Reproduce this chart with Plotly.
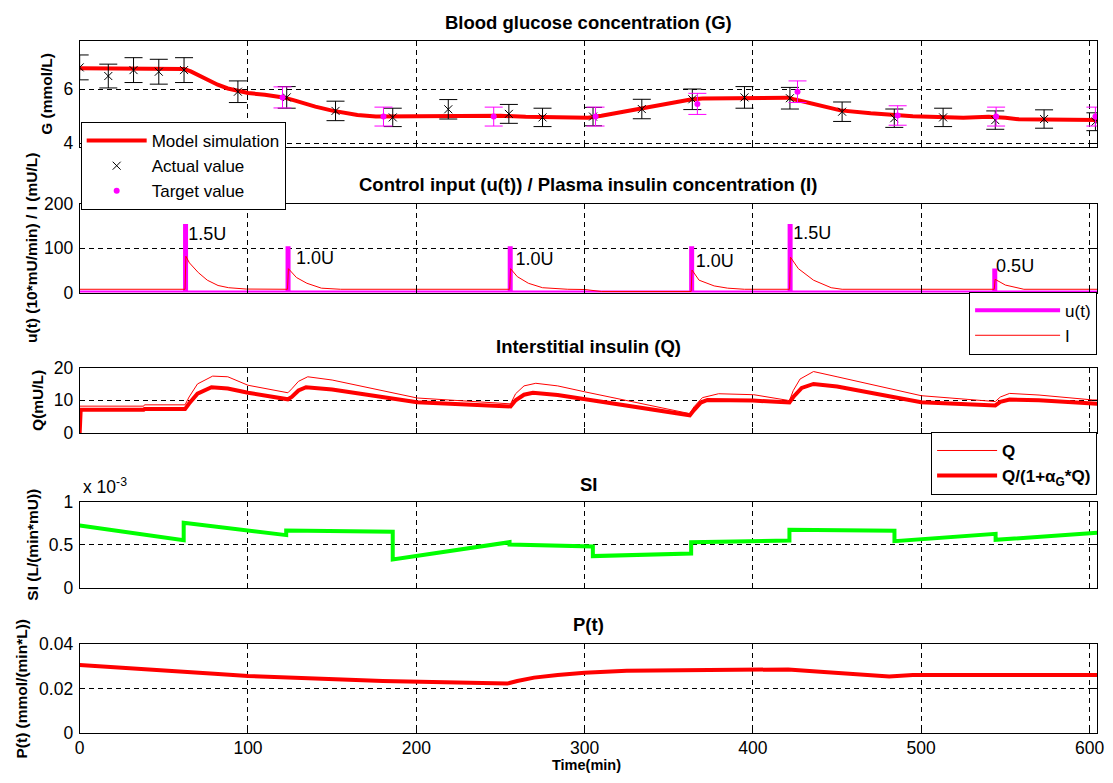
import plotly.graph_objects as go

W, H = 1113, 783

# ---------------- data ----------------
# Panel 1: blood glucose (mmol/L)
g_model_t = [0, 30, 62, 66, 70, 76, 82, 88, 94, 100, 110, 121, 127, 133, 140, 150, 158, 165, 176, 229, 250, 265, 284, 302, 310, 332, 350, 363, 370, 393, 421, 425, 440, 452, 470, 480, 495, 525, 540, 550, 558, 604.5]
g_model_v = [6.78, 6.77, 6.75, 6.66, 6.53, 6.35, 6.17, 6.03, 5.93, 5.86, 5.80, 5.70, 5.60, 5.48, 5.36, 5.21, 5.11, 5.05, 4.99, 4.99, 5.02, 4.98, 4.95, 4.95, 5.02, 5.26, 5.48, 5.62, 5.66, 5.67, 5.69, 5.62, 5.40, 5.22, 5.11, 5.07, 5.00, 4.95, 4.98, 4.95, 4.89, 4.86]

actual_t = [0, 17, 32, 47, 62, 94, 123, 152, 186, 219, 255, 275, 305, 334, 364, 395, 422, 453, 484, 513, 544, 573, 603.5]
actual_v = [6.81, 6.49, 6.71, 6.65, 6.71, 5.91, 5.70, 5.20, 4.96, 5.26, 5.09, 4.96, 4.99, 5.27, 5.63, 5.70, 5.67, 5.17, 4.93, 4.96, 4.86, 4.90, 4.80]
actual_err = [0.46, 0.44, 0.46, 0.46, 0.46, 0.40, 0.40, 0.36, 0.34, 0.36, 0.35, 0.34, 0.34, 0.36, 0.38, 0.40, 0.40, 0.36, 0.34, 0.34, 0.34, 0.34, 0.33]

target_t = [120.5, 180.5, 246, 306.5, 367, 426.5, 486, 544.5, 603.5]
target_v = [5.70, 4.99, 4.99, 4.99, 5.46, 5.91, 5.03, 4.99, 4.99]
target_err = [0.39, 0.35, 0.35, 0.35, 0.39, 0.40, 0.36, 0.35, 0.35]

# Panel 2: insulin boluses (10*mU/min) and plasma insulin (mU/L)
bolus_t = [62.6, 123.5, 255.5, 363.3, 421.8, 543.4]
bolus_u = [150, 100, 100, 100, 150, 50]
bolus_labels = ["1.5U", "1.0U", "1.0U", "1.0U", "1.5U", "0.5U"]
label_x = [64.5, 128.5, 259.0, 366.0, 424.0, 544.5]
label_y = [128, 75, 72, 68, 131, 57]

plasma_t = [0, 62.6, 63.1, 65.2, 70.5, 75.8, 82.2, 88.5, 99, 123.5, 124.0, 128.8, 135, 143.6, 155, 255.5, 256.0, 260, 266.6, 275, 290, 300, 310, 363.3, 363.8, 368, 377, 385, 395, 421.8, 422.3, 427, 436, 446.5, 453, 543.4, 543.9, 550, 561, 604.5]
plasma_v = [7.5, 7.5, 82, 67, 45, 28, 16, 11, 8, 7.5, 54, 34, 21, 10, 7.5, 7.5, 54, 36, 21, 11, 7.5, 7, 2.5, 2.5, 51, 28, 15, 10, 7.5, 7.5, 80, 54, 28, 11, 7.5, 7.5, 30, 17, 7.5, 7.5]

# Panel 3: interstitial insulin (mU/L)
q_t = [0, 38, 38.5, 62.6, 65, 70, 79, 88, 100, 123.7, 126, 130, 135.5, 150, 200.5, 256, 259, 264, 271, 284, 300, 362.5, 365, 370, 379.6, 400.5, 421.7, 424, 428, 436, 450, 500, 544, 547, 552.5, 570, 602, 604.5]
q_v = [8.2, 8.2, 8.6, 8.6, 11.0, 15.0, 17.4, 17.2, 14.6, 12.3, 13.5, 15.8, 17.2, 16.2, 10.7, 8.9, 12.0, 14.4, 15.2, 14.4, 12.6, 5.9, 8.0, 10.8, 12.0, 11.7, 9.9, 13.0, 16.5, 18.8, 17.2, 11.4, 9.6, 11.0, 12.1, 11.6, 10.1, 10.1]

qe_t = [0, 0.6, 38, 38.5, 62.6, 65, 70, 78.3, 88, 100, 123.7, 126, 130, 134.5, 150, 200.5, 256, 259, 264, 269.3, 284, 300, 362.5, 365, 369, 373, 400, 421.7, 424, 429, 436, 450, 500, 544, 547, 552.5, 570, 604.5]
qe_v = [0, 7.1, 7.1, 7.3, 7.3, 9.0, 12.0, 14.0, 13.6, 12.3, 10.3, 11.0, 13.0, 14.0, 13.3, 9.4, 8.1, 10.0, 11.7, 12.3, 11.6, 10.4, 5.4, 7.0, 9.3, 10.1, 9.9, 9.3, 11.0, 13.8, 15.0, 14.2, 9.4, 8.4, 9.5, 10.2, 10.0, 8.9]

# Panel 4: insulin sensitivity SI (L/(min*mU))
si_t = [0, 61.8, 61.8, 122.7, 122.7, 186, 186, 255.4, 255.4, 304.9, 304.9, 363.3, 363.3, 421.7, 421.7, 484.1, 484.1, 544.2, 544.2, 604.5]
si_v = [0.728e-3, 0.556e-3, 0.759e-3, 0.615e-3, 0.669e-3, 0.654e-3, 0.331e-3, 0.533e-3, 0.506e-3, 0.482e-3, 0.370e-3, 0.400e-3, 0.533e-3, 0.553e-3, 0.677e-3, 0.665e-3, 0.545e-3, 0.630e-3, 0.560e-3, 0.642e-3]

# Panel 5: P(t) (mmol/(min*L))
p_t = [0, 20, 40, 60, 80, 100, 120, 140, 160, 180, 200, 220, 240, 254, 260, 270, 284, 300, 325, 350, 392, 421, 440, 466, 481, 495, 604.5]
p_v = [0.0307, 0.0298, 0.0289, 0.0279, 0.0268, 0.0257, 0.0250, 0.0245, 0.0240, 0.0235, 0.0232, 0.0228, 0.0226, 0.0223, 0.0235, 0.0250, 0.0262, 0.0272, 0.0281, 0.0283, 0.0289, 0.0287, 0.0276, 0.0262, 0.0255, 0.0262, 0.0262]

x_ticks = [0, 100, 200, 300, 400, 500, 600]
titles = ["Blood glucose concentration (G)",
          "Control input (u(t)) / Plasma insulin concentration (I)",
          "Interstitial insulin (Q)", "SI", "P(t)"]
ylabels = ["G (mmol/L)", "u(t) (10*mU/min) / I (mU/L)", "Q(mU/L)",
           "SI (L/(min*mU))", "P(t) (mmol/(min*L))"]

# ---------------- layout geometry (pixels) ----------------
FONT = "Liberation Sans, Arial, Helvetica, sans-serif"
XL, XR = 75.5, 1104.0
panels_px = [(32, 141), (199, 290), (367, 434), (505, 593), (651, 742)]
title_y_px = [13, 179, 345, 487, 631]
ylabel_x_px = [42, 27, 33, 28, 17]

def fx(p):
    return p / W

def fy(p):
    return 1 - p / H

RED = "#FF0000"
MAG = "#FF00FF"
GREEN = "#00FF00"

fig = go.Figure()

# Panel 1
fig.add_trace(go.Scatter(x=g_model_t, y=g_model_v, mode="lines", name="Model simulation",
                         line=dict(color=RED, width=4), xaxis="x", yaxis="y", legend="legend"))
fig.add_trace(go.Scatter(x=actual_t, y=actual_v, mode="markers", name="Actual value",
                         marker=dict(symbol="x-thin-open", size=8, color="black", line=dict(color="black", width=1)),
                         error_y=dict(type="data", array=actual_err, color="black", thickness=1, width=9),
                         xaxis="x", yaxis="y", legend="legend"))
fig.add_trace(go.Scatter(x=target_t, y=target_v, mode="markers", name="Target value",
                         marker=dict(symbol="circle", size=6, color=MAG),
                         error_y=dict(type="data", array=target_err, color=MAG, thickness=1, width=9),
                         xaxis="x", yaxis="y", legend="legend"))

# Panel 2
u_t, u_v = [0], [0]
for tb, ub in zip(bolus_t, bolus_u):
    u_t += [tb, tb, tb + 0.6, tb + 0.6]
    u_v += [0, ub, ub, 0]
u_t.append(604.5)
u_v.append(0)
fig.add_trace(go.Scatter(x=u_t, y=u_v, mode="lines", name="u(t)",
                         line=dict(color=MAG, width=4), xaxis="x2", yaxis="y2", legend="legend2"))
fig.add_trace(go.Scatter(x=plasma_t, y=plasma_v, mode="lines", name="I",
                         line=dict(color=RED, width=1), xaxis="x2", yaxis="y2", legend="legend2"))
fig.add_trace(go.Scatter(x=label_x, y=label_y, mode="text", text=bolus_labels, textposition="middle right",
                         textfont=dict(family=FONT, size=18, color="black"), showlegend=False,
                         hoverinfo="skip", xaxis="x2", yaxis="y2", cliponaxis=False))

# Panel 3
fig.add_trace(go.Scatter(x=q_t, y=q_v, mode="lines", name="<b>Q</b>",
                         line=dict(color=RED, width=1), xaxis="x3", yaxis="y3", legend="legend3"))
fig.add_trace(go.Scatter(x=qe_t, y=qe_v, mode="lines", name="<b>Q/(1+α<sub>G</sub>*Q)</b>",
                         line=dict(color=RED, width=4), xaxis="x3", yaxis="y3", legend="legend3"))

# Panel 4
fig.add_trace(go.Scatter(x=si_t, y=si_v, mode="lines", showlegend=False,
                         line=dict(color=GREEN, width=4), xaxis="x4", yaxis="y4"))

# Panel 5
fig.add_trace(go.Scatter(x=p_t, y=p_v, mode="lines", showlegend=False,
                         line=dict(color=RED, width=4), xaxis="x5", yaxis="y5"))

layout = dict(width=W, height=H, margin=dict(l=0, r=0, t=0, b=0),
              paper_bgcolor="white", plot_bgcolor="white",
              font=dict(family=FONT, size=17, color="black"))

yranges = [[3.85, 7.78], [0, 200], [0, 20], [0, 0.001], [0, 0.04]]
ytickvals = [[4, 6], [0, 100, 200], [0, 10, 20], [0, 0.0005, 0.001], [0, 0.02, 0.04]]
yticktext = [["4", "6"], ["0", "100", "200"], ["0", "10", "20"], ["0", "0.5", "1"], ["0", "0.02", "0.04"]]

axis_common = dict(showline=True, linecolor="black", linewidth=1, mirror="ticks",
                   ticks="inside", ticklen=5, tickcolor="black", tickwidth=1,
                   showgrid=True, gridcolor="black", gridwidth=1, griddash="5px,4px",
                   zeroline=False, tickfont=dict(family=FONT, size=17.5, color="black"))

for i in range(5):
    sfx = "" if i == 0 else str(i + 1)
    top, bot = panels_px[i]
    xa = dict(axis_common)
    xa.update(domain=[fx(XL), fx(XR)], range=[0, 604.5], tickvals=x_ticks,
              ticktext=[str(v) for v in x_ticks], showticklabels=(i == 4),
              anchor="y" + sfx, ticklabelstandoff=-1)
    ya = dict(axis_common)
    ya.update(domain=[fy(bot), fy(top)], range=yranges[i], tickvals=ytickvals[i],
              ticktext=yticktext[i], anchor="x" + sfx, ticklabelstandoff=2)
    layout["xaxis" + sfx] = xa
    layout["yaxis" + sfx] = ya

annotations = []
for i in range(5):
    top, bot = panels_px[i]
    annotations.append(dict(text="<b>%s</b>" % titles[i], xref="paper", yref="paper",
                            x=fx((XL + XR) / 2), y=fy(title_y_px[i]), xanchor="center", yanchor="middle",
                            showarrow=False, font=dict(family=FONT, size=18.5, color="black")))
    annotations.append(dict(text="<b>%s</b>" % ylabels[i], xref="paper", yref="paper",
                            x=fx(ylabel_x_px[i]), y=fy((top + bot) / 2), xanchor="center", yanchor="middle",
                            textangle=-90, showarrow=False, font=dict(family=FONT, size=15.5, color="black")))
annotations.append(dict(text="<b>Time(min)</b>", xref="paper", yref="paper", x=fx(588), y=fy(775),
                        xanchor="center", yanchor="middle", showarrow=False,
                        font=dict(family=FONT, size=14.5, color="black")))
annotations.append(dict(text="x 10<sup>-3</sup>", xref="paper", yref="paper", x=fx(XL + 1), y=fy(488),
                        xanchor="left", yanchor="middle", showarrow=False,
                        font=dict(family=FONT, size=17.5, color="black")))
layout["annotations"] = annotations

legend_common = dict(bgcolor="white", bordercolor="black", borderwidth=1,
                     font=dict(family=FONT, size=17, color="black"), xref="paper", yref="paper")
layout["legend"] = dict(legend_common, x=fx(XL + 1), y=fy(115), xanchor="left", yanchor="top", itemwidth=60)
layout["legend2"] = dict(legend_common, x=fx(XR), y=fy(289), xanchor="right", yanchor="top", itemwidth=85)
layout["legend3"] = dict(legend_common, x=fx(XR), y=fy(433), xanchor="right", yanchor="top", itemwidth=60)

fig.update_layout(**layout)
fig.write_html("out.html")
